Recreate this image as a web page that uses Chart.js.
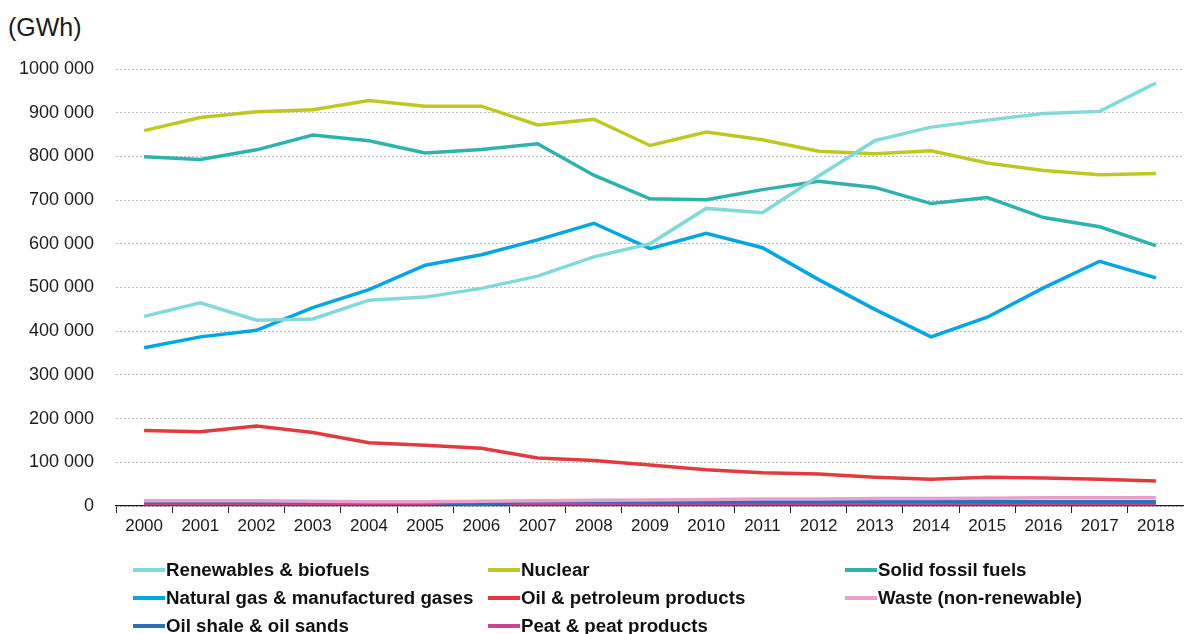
<!DOCTYPE html>
<html>
<head>
<meta charset="utf-8">
<title>Gross electricity production by fuel, EU</title>
<script src="https://cdn.jsdelivr.net/npm/chart.js@4.4.1/dist/chart.umd.min.js"></script>
<style>
  html, body { margin: 0; padding: 0; background: #ffffff; }
  body { width: 1184px; height: 634px; position: relative; overflow: hidden; font-family: "Liberation Sans", Arial, sans-serif; }
  #unit { position: absolute; left: 8px; top: 12px; font-size: 25px; line-height: 30px; color: #1a1a1a; }
  #wrap { position: absolute; left: 0; top: 0; width: 1184px; height: 546px; }
  #legend { position: absolute; left: 0; top: 0; width: 1184px; height: 634px; pointer-events: none; }
  .item { position: absolute; display: flex; align-items: center; height: 22px; font-weight: bold; font-size: 18.7px; color: #111; white-space: nowrap; }
  .swatch { width: 32px; height: 4px; margin-right: 1px; }
</style>
</head>
<body>
<div id="unit">(GWh)</div>
<div id="wrap"><canvas id="chart" width="1184" height="546"></canvas></div>
<div id="legend"></div>
<script>
// Years on the horizontal axis
const years = ['2000','2001','2002','2003','2004','2005','2006','2007','2008','2009',
               '2010','2011','2012','2013','2014','2015','2016','2017','2018'];

// Gross electricity production by fuel (GWh)
const renewables = [434000, 465000, 425000, 428000, 471000, 478000, 498000, 526000, 570000, 600000,
                    681000, 671000, 755000, 836000, 867000, 883000, 898000, 903000, 968000];
const nuclear    = [859000, 889000, 902000, 907000, 928000, 915000, 915000, 872000, 885000, 825000,
                    856000, 838000, 812000, 806000, 813000, 785000, 768000, 758000, 761000];
const solidFossil = [799000, 793000, 815000, 849000, 836000, 808000, 816000, 829000, 757000, 703000,
                     701000, 724000, 743000, 729000, 692000, 706000, 660000, 639000, 596000];
const naturalGas = [362000, 387000, 402000, 454000, 495000, 551000, 575000, 609000, 647000, 589000,
                    624000, 591000, 518000, 450000, 387000, 432000, 499000, 560000, 522000];
const oil        = [173000, 170000, 183000, 168000, 145000, 139000, 132000, 110000, 104000, 94000,
                    83000, 76000, 73000, 66000, 61000, 66000, 64000, 61000, 57000];
const waste      = [12000, 12000, 12000, 11000, 10000, 10000, 11000, 12000, 13000, 14000,
                    15000, 16000, 16000, 17000, 17000, 18000, 19000, 19000, 19000];
const oilShale   = [9000, 9000, 9000, 9000, 9000, 9000, 3000, 12000, 11000, 9000,
                    10000, 10000, 10000, 11000, 11000, 10000, 10000, 10000, 10000];
const peat       = [5000, 5000, 5000, 5000, 5000, 5000, 5000, 5000, 5000, 5000,
                    5000, 5000, 5000, 5000, 5000, 5000, 5000, 5000, 5000];

// Y axis range and step
const yMin = 0;
const yMax = 1000000;
const yStep = 100000;

const seriesNames = ['Renewables & biofuels', 'Nuclear', 'Solid fossil fuels',
                     'Natural gas & manufactured gases', 'Oil & petroleum products', 'Waste (non-renewable)',
                     'Oil shale & oil sands', 'Peat & peat products'];
const seriesValues = [renewables, nuclear, solidFossil, naturalGas, oil, waste, oilShale, peat];
const seriesColors = ['#7fdad8', '#bfc823', '#2db2ac', '#00a6e6', '#e03c40', '#e8a0cc', '#2a6fb9', '#c9448f'];

const datasets = seriesNames.map((name, i) => ({
  label: name,
  data: seriesValues[i],
  borderColor: seriesColors[i],
  backgroundColor: seriesColors[i],
  borderWidth: 3.5,
  pointRadius: 0,
  pointHoverRadius: 0,
  tension: 0,
  fill: false
}));

function formatThousands(v) {
  if (v < 1000) return String(v);
  const head = Math.floor(v / 1000);
  const tail = String(v % 1000).padStart(3, '0');
  return head + ' ' + tail;
}

new Chart(document.getElementById('chart'), {
  type: 'line',
  data: { labels: years, datasets: datasets },
  options: {
    responsive: false,
    animation: false,
    events: [],
    layout: { padding: { top: 69, right: 0, bottom: 0, left: 0 } },
    plugins: { legend: { display: false }, tooltip: { enabled: false } },
    scales: {
      x: {
        offset: true,
        grid: {
          offset: true,
          drawOnChartArea: false,
          drawTicks: true,
          tickLength: 7,
          color: '#222222',
          lineWidth: 1
        },
        border: { display: true, color: '#222222', width: 1.2 },
        ticks: {
          autoSkip: false,
          maxRotation: 0,
          padding: 3,
          color: '#1a1a1a',
          font: { family: '"Liberation Sans", Arial, sans-serif', size: 17 }
        },
        afterFit: (scale) => { scale.height = 40; }
      },
      y: {
        min: yMin,
        max: yMax,
        grid: {
          drawTicks: false,
          color: '#b9b9b9',
          lineWidth: 1
        },
        border: { display: false, dash: [2, 2] },
        ticks: {
          stepSize: yStep,
          padding: 22,
          color: '#1a1a1a',
          font: { family: '"Liberation Sans", Arial, sans-serif', size: 18 },
          callback: (v) => formatThousands(v)
        },
        afterFit: (scale) => { scale.width = 116; }
      }
    }
  }
});

// Legend laid out in three columns below the plot
const legendCols = [133, 488, 845];
const legendRows = [559, 587, 615];
const legend = document.getElementById('legend');
seriesNames.forEach((name, i) => {
  const item = document.createElement('div');
  item.className = 'item';
  item.style.left = legendCols[i % 3] + 'px';
  item.style.top = legendRows[Math.floor(i / 3)] + 'px';
  const sw = document.createElement('span');
  sw.className = 'swatch';
  sw.style.background = seriesColors[i];
  const tx = document.createElement('span');
  tx.textContent = name;
  item.appendChild(sw);
  item.appendChild(tx);
  legend.appendChild(item);
});
</script>
</body>
</html>
